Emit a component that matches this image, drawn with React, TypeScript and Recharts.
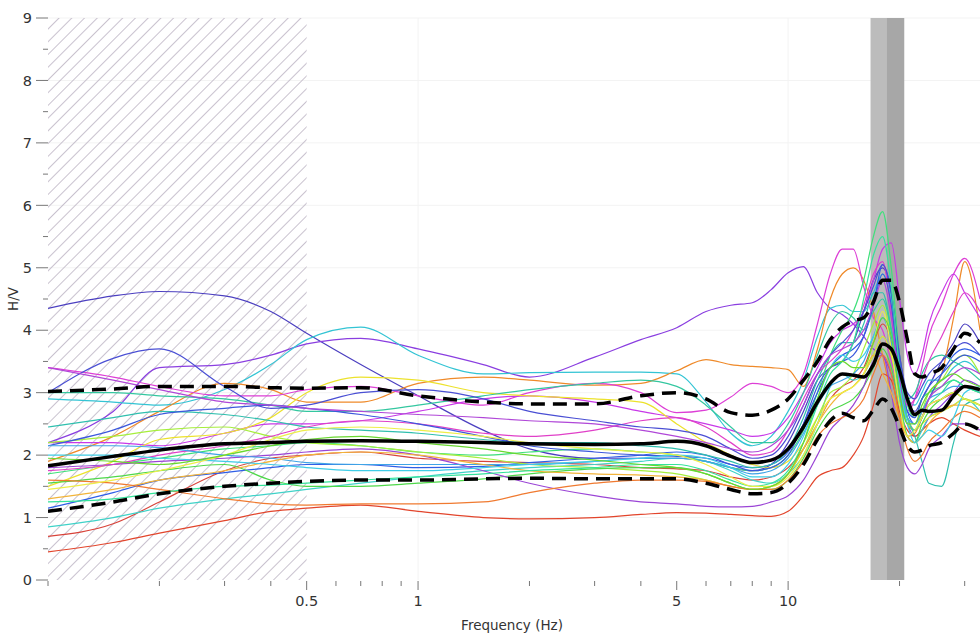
import React from 'react';
import { LineChart, Line, XAxis, YAxis, ReferenceArea, CartesianGrid } from 'recharts';

// Frequency grid (Hz)
const FREQ = [0.1, 0.15, 0.2, 0.3, 0.4, 0.5, 0.7, 1, 1.5, 2, 3, 4, 5, 6, 7, 8, 9, 10, 11, 12, 13, 14, 15, 16, 17, 18, 19, 20, 21, 22, 23, 24, 26, 28, 30, 33];

// Statistics curves
const MEAN = [1.83, 1.98, 2.08, 2.18, 2.2, 2.22, 2.23, 2.22, 2.2, 2.18, 2.17, 2.18, 2.22, 2.15, 1.98, 1.88, 1.92, 2.1, 2.45, 2.85, 3.15, 3.3, 3.28, 3.25, 3.45, 3.78, 3.7, 3.35, 2.9, 2.65, 2.72, 2.7, 2.72, 2.95, 3.1, 3.05];
const STD_UP = [3.02, 3.06, 3.1, 3.1, 3.08, 3.07, 3.08, 2.95, 2.85, 2.82, 2.82, 2.95, 3.0, 2.9, 2.68, 2.64, 2.72, 2.9, 3.2, 3.5, 3.85, 4.05, 4.15, 4.2, 4.45, 4.8, 4.8, 4.45, 3.85, 3.3, 3.25, 3.3, 3.4, 3.7, 3.95, 3.8];
const STD_LO = [1.1, 1.25, 1.38, 1.5, 1.55, 1.58, 1.6, 1.6, 1.62, 1.63, 1.62, 1.62, 1.62, 1.55, 1.45, 1.38, 1.4, 1.55, 1.85, 2.25, 2.55, 2.67, 2.6, 2.55, 2.72, 2.9, 2.75, 2.45, 2.15, 2.05, 2.08, 2.15, 2.2, 2.35, 2.5, 2.4];

// Individual window curves
const W01 = [4.35, 4.55, 4.62, 4.55, 4.3, 3.95, 3.45, 2.95, 2.4, 2.1, 1.95, 1.95, 1.95, 1.9, 1.8, 1.75, 1.85, 2.2, 2.7, 3.2, 3.4, 3.5, 3.8, 4.3, 4.8, 5.0, 4.6, 3.6, 2.9, 2.7, 2.9, 3.1, 3.5, 3.8, 4.1, 3.8];
const W02 = [2.2, 2.7, 3.4, 3.45, 3.6, 3.78, 3.87, 3.7, 3.45, 3.25, 3.57, 3.85, 4.04, 4.3, 4.4, 4.44, 4.65, 4.92, 5.02, 4.6, 4.35, 4.25, 4.1, 3.9, 3.7, 3.6, 3.3, 2.9, 2.5, 2.3, 2.4, 2.6, 2.8, 3.0, 3.2, 3.1];
const W03 = [2.9, 2.85, 2.8, 3.05, 3.45, 3.85, 4.05, 3.6, 3.3, 3.32, 3.33, 3.33, 3.3, 2.85, 2.35, 2.15, 2.3, 2.7, 3.2, 3.9, 4.35, 4.4, 4.3, 4.3, 4.6, 4.9, 4.5, 3.5, 2.9, 2.8, 3.0, 3.2, 3.2, 3.4, 3.5, 3.3];
const W04 = [1.9, 2.3, 2.7, 3.15, 3.05, 2.85, 2.85, 3.15, 3.25, 3.2, 3.12, 3.15, 3.35, 3.53, 3.45, 3.42, 3.4, 3.37, 3.1, 3.7, 4.5, 4.9, 5.0, 4.8, 4.3, 3.6, 3.0, 2.6, 2.3, 2.35, 2.6, 2.9, 3.3, 4.2, 5.1, 4.0];
const W05 = [3.4, 3.25, 3.1, 2.95, 2.95, 3.05, 3.1, 2.95, 2.8, 3.0, 3.15, 3.0, 2.68, 2.72, 2.93, 3.15, 3.1, 3.0, 3.3, 4.1, 4.9, 5.3, 5.3, 4.7, 4.2, 4.0, 3.5, 3.0, 2.7, 2.9, 3.4, 3.9, 4.4, 4.9, 5.15, 4.5];
const W06 = [2.2, 2.2, 2.15, 2.35, 2.5, 2.5, 2.55, 2.7, 2.9, 2.95, 2.85, 2.7, 2.6, 2.5, 2.4, 2.3, 2.35, 2.6, 3.0, 3.4, 3.8, 4.0, 4.1, 4.3, 4.8, 5.3, 5.4, 4.5, 3.6, 3.3, 3.6, 4.1, 4.6, 4.9, 4.6, 4.2];
const W07 = [1.7, 1.85, 1.95, 2.1, 2.15, 2.2, 2.15, 2.05, 2.0, 2.05, 2.1, 2.05, 2.0, 1.9, 1.8, 1.75, 1.8, 2.0, 2.4, 3.0, 3.6, 4.0, 4.3, 4.8, 5.5, 5.9, 5.0, 3.6, 2.8, 2.6, 2.9, 3.0, 3.1, 3.2, 3.1, 3.0];
const W08 = [0.45, 0.6, 0.75, 0.95, 1.1, 1.15, 1.2, 1.1, 1.0, 0.98, 1.0, 1.05, 1.08, 1.07, 1.05, 1.03, 1.02, 1.1, 1.35, 1.65, 1.75, 1.8, 2.0, 2.3, 2.8, 3.3, 3.2, 2.7, 2.4, 2.3, 2.4, 2.5, 2.6, 2.5, 2.4, 2.3];
const W09 = [0.7, 0.9, 1.25, 1.75, 1.95, 2.0, 2.05, 1.95, 1.9, 1.88, 1.85, 1.8, 1.78, 1.75, 1.65, 1.6, 1.65, 1.8, 2.1, 2.5, 2.9, 3.1, 3.2, 3.4, 3.8, 4.1, 3.8, 3.0, 2.5, 2.4, 2.6, 2.8, 2.9, 3.0, 3.1, 3.0];
const W10 = [0.85, 1.0, 1.15, 1.3, 1.38, 1.45, 1.55, 1.65, 1.75, 1.8, 1.85, 1.9, 1.95, 1.9, 1.75, 1.6, 1.55, 1.7, 2.0, 2.5, 3.1, 3.3, 3.2, 3.3, 3.6, 3.9, 3.6, 2.9, 2.3, 2.2, 2.4, 2.6, 2.7, 2.8, 2.9, 2.7];
const W11 = [1.15, 1.4, 1.6, 1.72, 1.8, 1.85, 1.85, 1.8, 1.82, 1.88, 1.95, 2.0, 2.05, 2.0, 1.85, 1.8, 1.85, 2.05, 2.5, 3.0, 3.4, 3.6, 3.7, 3.9, 4.4, 5.05, 4.6, 3.5, 2.7, 2.5, 2.7, 2.9, 3.3, 3.6, 3.7, 3.6];
const W12 = [1.5, 1.9, 2.25, 2.35, 2.6, 3.0, 3.25, 3.2, 3.0, 2.95, 2.9, 2.85, 2.5, 2.2, 2.0, 1.85, 1.8, 1.9, 2.2, 2.6, 2.9, 3.0, 3.1, 3.3, 3.6, 3.9, 3.6, 3.0, 2.6, 2.4, 2.5, 2.6, 2.7, 2.8, 2.9, 2.8];
const W13 = [2.2, 2.3, 2.4, 2.45, 2.3, 2.2, 2.15, 2.05, 1.95, 1.85, 1.8, 1.75, 1.7, 1.6, 1.5, 1.45, 1.5, 1.7, 2.1, 2.6, 3.0, 3.1, 3.3, 3.7, 4.1, 4.4, 3.9, 3.1, 2.5, 2.4, 2.7, 3.0, 3.2, 3.5, 3.6, 3.3];
const W14 = [1.55, 1.65, 1.75, 1.85, 1.6, 1.5, 1.5, 1.55, 1.62, 1.7, 1.78, 1.8, 1.8, 1.7, 1.55, 1.45, 1.45, 1.6, 1.95, 2.4, 2.7, 2.8, 2.9, 3.1, 3.4, 3.7, 3.4, 2.8, 2.3, 2.2, 2.5, 2.7, 2.9, 3.0, 2.9, 2.8];
const W15 = [2.45, 2.6, 2.7, 2.65, 2.55, 2.45, 2.4, 2.35, 2.25, 2.2, 2.2, 2.15, 2.1, 2.0, 1.9, 1.8, 1.85, 2.1, 2.6, 3.2, 3.6, 3.8, 3.8, 4.1, 4.6, 4.6, 4.0, 3.2, 2.6, 2.3, 1.9, 1.55, 1.5, 2.2, 2.8, 2.9];
const W16 = [3.0, 3.0, 2.95, 2.9, 2.8, 2.7, 2.7, 2.8, 2.95, 3.05, 3.15, 3.2, 3.1, 2.8, 2.45, 2.2, 2.2, 2.5, 3.0, 3.6, 4.1, 4.3, 4.2, 4.0, 4.3, 4.5, 4.0, 3.2, 2.9, 3.0, 3.3, 3.5, 3.6, 3.5, 3.4, 3.2];
const W17 = [1.8, 1.85, 1.9, 1.95, 2.0, 2.05, 2.1, 2.0, 1.75, 1.55, 1.35, 1.25, 1.22, 1.18, 1.17, 1.18, 1.25, 1.35, 1.6, 2.0, 2.4, 2.6, 2.8, 3.1, 3.5, 3.6, 3.0, 2.2, 1.8, 1.7, 1.85, 2.1, 2.3, 2.5, 2.5, 2.4];
const W18 = [1.75, 1.85, 2.0, 2.15, 2.3, 2.45, 2.55, 2.5, 2.35, 2.3, 2.4, 2.55, 2.6, 2.45, 2.2, 2.0, 2.05, 2.4, 2.9, 3.3, 3.5, 3.7, 4.0, 4.4, 4.9, 5.1, 4.3, 3.3, 2.8, 2.9, 3.2, 3.5, 3.9, 4.3, 4.6, 4.3];
const W19 = [2.15, 2.4, 2.65, 2.75, 2.8, 2.75, 2.65, 2.5, 2.3, 2.15, 2.05, 2.0, 1.98, 1.95, 1.85, 1.75, 1.8, 2.0, 2.5, 3.1, 3.4, 3.5, 3.6, 3.9, 4.4, 4.9, 4.4, 3.3, 2.7, 2.6, 2.9, 3.1, 3.3, 3.5, 3.6, 3.5];
const W20 = [2.15, 2.15, 2.12, 2.0, 1.95, 1.88, 1.85, 1.85, 1.85, 1.85, 1.9, 1.95, 1.95, 1.9, 1.8, 1.7, 1.75, 1.95, 2.35, 2.8, 3.1, 3.2, 3.3, 3.5, 3.9, 4.2, 3.8, 3.0, 2.6, 2.5, 2.7, 2.9, 3.0, 3.1, 3.1, 3.0];
const W21 = [3.0, 3.55, 3.7, 3.1, 2.75, 2.8, 3.0, 3.05, 2.9, 2.7, 2.55, 2.45, 2.4, 2.3, 2.1, 1.95, 2.0, 2.3, 2.8, 3.3, 3.6, 3.8, 4.0, 4.3, 4.7, 5.05, 4.6, 3.6, 3.0, 2.9, 3.1, 3.3, 3.5, 3.7, 3.8, 3.6];
const W22 = [3.4, 3.2, 3.05, 2.85, 2.8, 2.75, 2.7, 2.65, 2.6, 2.55, 2.5, 2.4, 2.3, 2.2, 2.1, 2.05, 2.15, 2.4, 2.8, 3.3, 3.6, 3.7, 3.8, 4.0, 4.4, 4.8, 4.2, 3.2, 2.6, 2.4, 2.6, 2.9, 3.1, 3.3, 3.4, 3.3];
const W23 = [1.3, 1.45, 1.6, 1.75, 1.9, 2.0, 2.05, 2.0, 1.85, 1.75, 1.7, 1.68, 1.65, 1.6, 1.5, 1.45, 1.5, 1.7, 2.1, 2.5, 2.8, 3.0, 3.1, 3.3, 3.6, 3.3, 3.0, 2.6, 2.3, 2.2, 2.3, 2.5, 2.7, 2.8, 2.8, 2.7];
const W24 = [1.6, 1.55, 1.45, 1.3, 1.22, 1.2, 1.22, 1.22, 1.25, 1.4, 1.55, 1.6, 1.6, 1.58, 1.5, 1.45, 1.45, 1.6, 1.9, 2.3, 2.5, 2.6, 2.7, 2.9, 3.3, 3.6, 3.3, 2.6, 2.1, 1.9, 2.0, 2.2, 2.4, 2.6, 2.7, 2.6];
const W25 = [1.25, 1.3, 1.4, 1.5, 1.52, 1.55, 1.6, 1.65, 1.7, 1.75, 1.8, 1.85, 1.85, 1.75, 1.6, 1.5, 1.55, 1.75, 2.2, 2.8, 3.3, 3.5, 3.8, 4.5, 5.2, 5.5, 4.7, 3.4, 2.6, 2.4, 2.6, 2.8, 3.0, 3.2, 3.1, 3.0];
const W26 = [2.0, 2.0, 1.95, 1.9, 1.85, 1.8, 1.75, 1.75, 1.8, 1.85, 1.9, 1.95, 2.0, 1.95, 1.8, 1.65, 1.65, 1.85, 2.3, 2.9, 3.4, 3.6, 3.5, 3.6, 3.9, 4.2, 3.9, 3.1, 2.5, 2.2, 2.3, 2.4, 2.3, 2.6, 3.0, 3.1];
const W27 = [1.45, 1.6, 1.75, 2.0, 2.25, 2.4, 2.45, 2.4, 2.3, 2.2, 2.1, 2.05, 2.0, 1.85, 1.65, 1.5, 1.5, 1.65, 2.0, 2.5, 2.9, 3.0, 3.1, 3.3, 3.8, 4.3, 3.7, 2.8, 2.3, 2.4, 2.6, 2.8, 2.9, 3.0, 2.9, 2.8];
const W28 = [1.95, 1.9, 1.85, 2.0, 2.15, 2.25, 2.3, 2.2, 2.1, 2.0, 1.92, 1.85, 1.8, 1.7, 1.55, 1.45, 1.5, 1.7, 2.2, 2.9, 3.4, 3.5, 3.4, 3.4, 3.8, 4.2, 3.9, 3.0, 2.5, 2.5, 2.8, 3.0, 3.2, 3.3, 3.2, 3.1];

const WINDOW_VALUES = [W01, W02, W03, W04, W05, W06, W07, W08, W09, W10, W11, W12, W13, W14, W15, W16, W17, W18, W19, W20, W21, W22, W23, W24, W25, W26, W27, W28];
const WINDOW_COLORS = [
  '#4b3fc0', '#8a3ee0', '#33c4d4', '#ef8a2a', '#dd3fd6', '#c839e8', '#3ee07a',
  '#e2452c', '#d8433a', '#3fd2c8', '#2f5ee6', '#ece22c', '#a6ee3c', '#4fd84a',
  '#2fbfae', '#34c7a0', '#9b45d6', '#e040c8', '#3c58dc', '#3fa4e6', '#4a4fd4',
  '#b047d8', '#f2b43a', '#f07a30', '#34e39a', '#3fcde6', '#eeee48', '#6ad830',
];

// Axis ticks
const X_TICKS = [0.1, 0.2, 0.3, 0.4, 0.5, 0.6, 0.7, 0.8, 0.9, 1, 2, 3, 4, 5, 6, 7, 8, 9, 10, 20, 30];
const X_LABELED = [0.5, 1, 5, 10];
const Y_TICKS = [0, 0.5, 1, 1.5, 2, 2.5, 3, 3.5, 4, 4.5, 5, 5.5, 6, 6.5, 7, 7.5, 8, 8.5, 9];
const GRID_Y = [1, 2, 3, 4, 5, 6, 7, 8, 9];
const GRID_X = [1, 10];
const X_DOMAIN = [0.1, 33];
const Y_DOMAIN = [0, 9];

// Shaded ranges
const HATCH_RANGE = [0.1, 0.5];
const PEAK_LIGHT = [16.7, 18.5];
const PEAK_DARK = [18.5, 20.6];

const FONT = '"DejaVu Sans", Verdana, sans-serif';
const TEXT = '#333';
const TICK_COLOR = '#777';

const rows = FREQ.map((f, i) => {
  const row: Record<string, number> = { f, mean: MEAN[i], up: STD_UP[i], lo: STD_LO[i] };
  WINDOW_VALUES.forEach((vals, k) => {
    row['w' + k] = vals[i];
  });
  return row;
});

const XTick = (props: any) => {
  const { x, y, payload } = props;
  const v = payload.value;
  const major = X_LABELED.includes(v);
  const top = y - 16;
  return (
    <g>
      <line x1={x} y1={top + 1} x2={x} y2={top + (major ? 10 : 6)} stroke={TICK_COLOR} strokeWidth={1} />
      {major && (
        <text x={x} y={y} dy="0.71em" textAnchor="middle" fill={TEXT} fontFamily={FONT} fontSize={14.5}>
          {String(v)}
        </text>
      )}
    </g>
  );
};

const YTick = (props: any) => {
  const { x, y, payload } = props;
  const v = payload.value;
  const major = Number.isInteger(v);
  const right = x + 16;
  return (
    <g>
      <line x1={right - (major ? 12 : 5)} y1={y} x2={right} y2={y} stroke={TICK_COLOR} strokeWidth={1} />
      {major && (
        <text x={x} y={y} dy="0.36em" textAnchor="end" fill={TEXT} fontFamily={FONT} fontSize={14.5}>
          {String(v)}
        </text>
      )}
    </g>
  );
};

const XLabel = (props: any) => {
  const vb = props.viewBox || {};
  return (
    <text x={vb.x + vb.width / 2 - 2} y={vb.y + 50} textAnchor="middle" fill={TEXT} fontFamily={FONT} fontSize={13.5}>
      Frequency (Hz)
    </text>
  );
};

const YLabel = (props: any) => {
  const vb = props.viewBox || {};
  const cx = vb.x + 13;
  const cy = vb.y + vb.height / 2;
  return (
    <text x={cx} y={cy} transform={`rotate(-90 ${cx} ${cy})`} textAnchor="middle" dominantBaseline="central" fill={TEXT} fontFamily={FONT} fontSize={13.5}>
      H/V
    </text>
  );
};

export default function App() {
  return (
    <div style={{ position: 'absolute', left: 0, top: 0, width: 980, height: 637, background: '#fff', overflow: 'hidden' }}>
      <svg width={0} height={0} style={{ position: 'absolute' }}>
        <defs>
          <pattern id="hatch" width="9" height="9" patternUnits="userSpaceOnUse" patternTransform="rotate(45)">
            <line x1="0" y1="0" x2="0" y2="9" stroke="#bbb3c3" strokeWidth="1.6" />
          </pattern>
        </defs>
      </svg>
      <LineChart width={980} height={637} data={rows} margin={{ top: 18, right: 0, bottom: 0, left: 0 }}>
        <CartesianGrid horizontalValues={GRID_Y} verticalValues={GRID_X} stroke="#f3f3f3" strokeWidth={1} />
        <XAxis
          dataKey="f"
          type="number"
          scale="log"
          domain={X_DOMAIN}
          allowDataOverflow
          ticks={X_TICKS}
          interval={0}
          tick={<XTick />}
          tickLine={false}
          axisLine={false}
          tickSize={10}
          tickMargin={6}
          height={57}
          label={<XLabel />}
        />
        <YAxis
          type="number"
          domain={Y_DOMAIN}
          ticks={Y_TICKS}
          interval={0}
          tick={<YTick />}
          tickLine={false}
          axisLine={false}
          tickSize={12}
          tickMargin={4}
          width={48}
          label={<YLabel />}
        />
        <ReferenceArea x1={HATCH_RANGE[0]} x2={HATCH_RANGE[1]} y1={Y_DOMAIN[0]} y2={Y_DOMAIN[1]} fill="url(#hatch)" fillOpacity={1} stroke="none" />
        <ReferenceArea x1={PEAK_LIGHT[0]} x2={PEAK_LIGHT[1]} y1={Y_DOMAIN[0]} y2={Y_DOMAIN[1]} fill="#bcbcbc" fillOpacity={1} stroke="none" />
        <ReferenceArea x1={PEAK_DARK[0]} x2={PEAK_DARK[1]} y1={Y_DOMAIN[0]} y2={Y_DOMAIN[1]} fill="#a7a7a7" fillOpacity={1} stroke="none" />
        {WINDOW_VALUES.map((_, k) => (
          <Line
            key={'w' + k}
            dataKey={'w' + k}
            type="monotone"
            stroke={WINDOW_COLORS[k]}
            strokeWidth={1.2}
            dot={false}
            activeDot={false}
            isAnimationActive={false}
          />
        ))}
        <Line dataKey="up" type="monotone" stroke="#000" strokeWidth={3.5} strokeDasharray="14 8" dot={false} activeDot={false} isAnimationActive={false} />
        <Line dataKey="lo" type="monotone" stroke="#000" strokeWidth={3.5} strokeDasharray="14 8" dot={false} activeDot={false} isAnimationActive={false} />
        <Line dataKey="mean" type="monotone" stroke="#000" strokeWidth={3.5} dot={false} activeDot={false} isAnimationActive={false} />
      </LineChart>
    </div>
  );
}
